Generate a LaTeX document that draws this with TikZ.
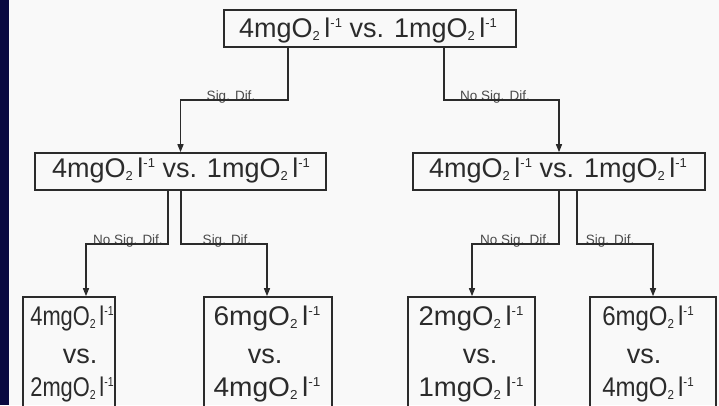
\documentclass[tikz,border=0pt]{standalone}
\usepackage{fontspec}
\setmainfont{Liberation Sans}
\usepackage{graphicx}
\usetikzlibrary{arrows.meta}
\definecolor{bgc}{HTML}{F9F9F9}
\definecolor{navy}{HTML}{0A0A40}
\definecolor{ink}{HTML}{2B2B2B}
\definecolor{lab}{HTML}{4A4A4A}
\newcommand{\cc}[1]{#1mgO\raisebox{-3pt}{\fontsize{13}{13}\selectfont 2}\hspace{4.5pt}l\raisebox{10pt}{\fontsize{13}{13}\selectfont -1}}
\tikzset{
  box/.style={draw=ink, line width=1.6pt, rectangle, inner sep=0pt},
  big/.style={font=\fontsize{27}{30}\selectfont, text=ink, inner sep=0pt, anchor=base},
  lbl/.style={font=\fontsize{13.5}{16}\selectfont, text=lab, inner sep=0pt, anchor=base},
  conn/.style={draw=ink, line width=1.3pt},
  arr/.style={conn, -{Triangle[length=8pt,width=6pt]}},
}
\begin{document}
\begin{tikzpicture}[x=1pt,y=-1pt]
\useasboundingbox (0,0) rectangle (719,405);
\fill[bgc] (0,0) rectangle (719,405);
\fill[navy] (0,0) rectangle (9,405);
\begin{scope}
\clip (0,0) rectangle (719,405);
% boxes
\node[box, minimum width=292pt, minimum height=37pt] (T) at (370,28.5) {};
\node[box, minimum width=291pt, minimum height=37pt] (ML) at (180.5,171.5) {};
\node[box, minimum width=292pt, minimum height=37pt] (MR) at (559,171.5) {};
\node[box, minimum width=92pt, minimum height=123pt] (B1) at (69,358.5) {};
\node[box, minimum width=128pt, minimum height=123pt] (B2) at (268,358.5) {};
\node[box, minimum width=127pt, minimum height=123pt] (B3) at (471.5,358.5) {};
\node[box, minimum width=126pt, minimum height=123pt] (B4) at (653,358.5) {};
% texts
\node[big] (Tt) at (368,37.3) {\cc{4} vs. \cc{1}};
\node[big] (MLt) at (181,177.3) {\cc{4} vs. \cc{1}};
\node[big] (MRt) at (558,177.3) {\cc{4} vs. \cc{1}};
\node[big] (B1a) at (72,325) {\scalebox{0.81}[1]{\cc{4}}};
\node[big] (B1b) at (80,363) {vs.};
\node[big] (B1c) at (72,396) {\scalebox{0.81}[1]{\cc{2}}};
\node[big] (B2a) at (267,325) {\scalebox{1.04}[1]{\cc{6}}};
\node[big] (B2b) at (265,363) {vs.};
\node[big] (B2c) at (267,396) {\scalebox{1.04}[1]{\cc{4}}};
\node[big] (B3a) at (471,325) {\scalebox{1.02}[1]{\cc{2}}};
\node[big] (B3b) at (480,363) {vs.};
\node[big] (B3c) at (471,396) {\scalebox{1.02}[1]{\cc{1}}};
\node[big] (B4a) at (648,325) {\scalebox{0.89}[1]{\cc{6}}};
\node[big] (B4b) at (644,363) {vs.};
\node[big] (B4c) at (648,396) {\scalebox{0.89}[1]{\cc{4}}};
% labels
\node[lbl] (L1) at (231,100) {Sig. Dif.};
\node[lbl] (L2) at (495,100) {No Sig. Dif.};
\node[lbl] (L3) at (128,244) {No Sig. Dif.};
\node[lbl] (L4) at (227,244) {Sig. Dif.};
\node[lbl] (L5) at (515,244) {No Sig. Dif.};
\node[lbl] (L6) at (610,244) {Sig. Dif.};
% connector corners
\coordinate (a1) at (288,100);
\coordinate (a2) at (444,100);
\coordinate (b1) at (168,244);
\coordinate (b2) at (86,244);
\coordinate (b3) at (181,244);
\coordinate (b4) at (267,244);
\coordinate (c1) at (559,244);
\coordinate (c2) at (472,244);
\coordinate (c3) at (577,244);
\coordinate (c4) at (653,244);
% connectors
\draw[arr] (T.south -| a1) -- (a1) -| (ML.north);
\draw[arr] (T.south -| a2) -- (a2) -| (MR.north);
\draw[arr] (ML.south -| b1) -- (b1) -- (b2) -- (b2 |- B1.north);
\draw[arr] (ML.south -| b3) -- (b3) -- (b4) -- (b4 |- B2.north);
\draw[arr] (MR.south -| c1) -- (c1) -- (c2) -- (c2 |- B3.north);
\draw[arr] (MR.south -| c3) -- (c3) -- (c4) -- (c4 |- B4.north);
\end{scope}
\end{tikzpicture}
\end{document}
